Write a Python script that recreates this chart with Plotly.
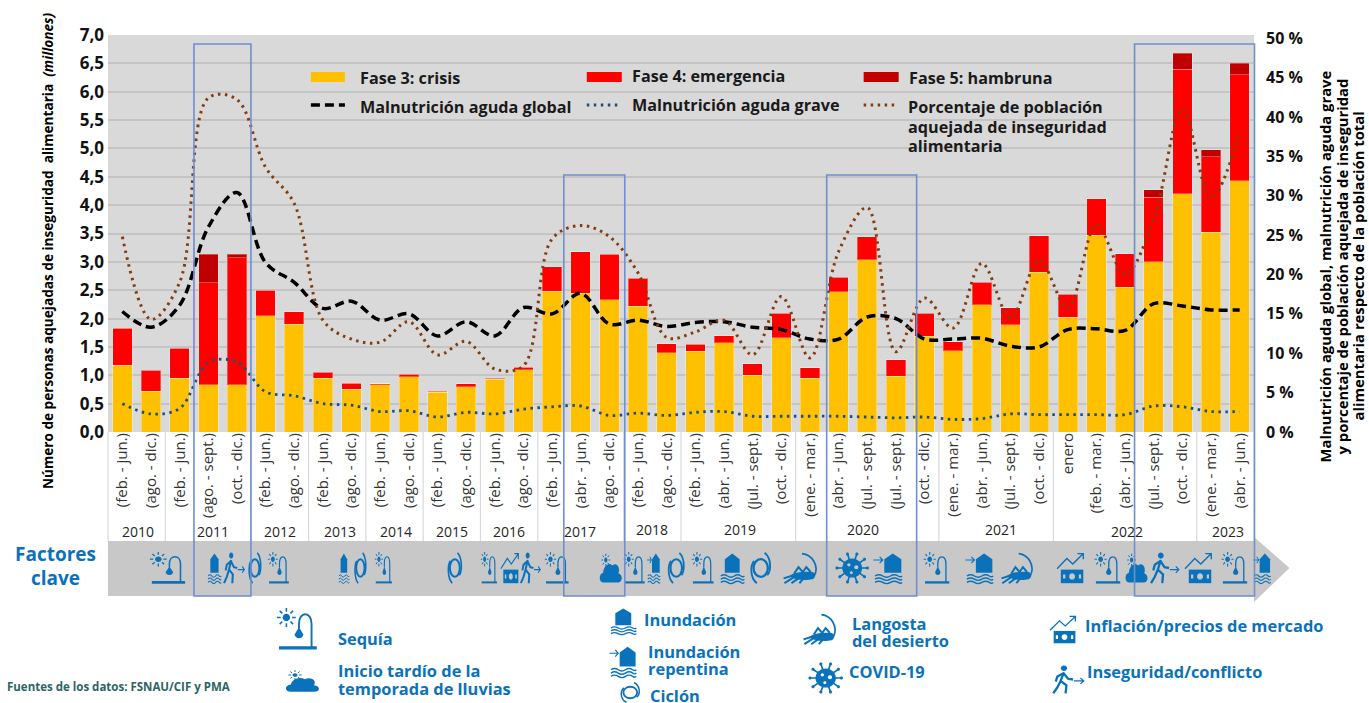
import math, re
import plotly.graph_objects as go

W, H = 1369, 703
L, R, T, B = 108, 1254.5, 35, 432

periods = ["(feb. - jun.)","(ago. - dic.)","(feb. - jun.)","(ago. - sept.)","(oct. - dic.)",
"(feb. - jun.)","(ago. - dic.)","(feb. - jun.)","(ago. - dic.)","(feb. - jun.)","(ago. - dic.)",
"(feb. - jun.)","(ago. - dic.)","(feb. - jun.)","(ago. - dic.)","(feb. - jun.)","(abr. - jun.)","(ago. - dic.)",
"(feb. - jun.)","(ago. - dic.)","(feb. - jun.)","(abr. - jun.)","(jul. - sept.)","(oct. - dic.)",
"(ene. - mar.)","(abr. - jun.)","(jul. - sept.)","(jul. - sept.)","(oct. - dic.)",
"(ene. - mar.)","(abr. - jun.)","(jul. - sept.)","(oct. - dic.)",
"enero","(feb. - mar.)","(abr. - jun.)","(jul. - sept.)","(oct. - dic.)","(ene. - mar.)","(abr. - jun.)"]

fase3 = [1.18,.72,.95,.83,.83,2.05,1.90,.95,.75,.83,.97,.70,.80,.93,1.10,2.48,2.45,2.33,2.22,1.40,
         1.42,1.57,1.00,1.66,.95,2.47,3.04,.98,1.69,1.43,2.24,1.89,2.82,2.02,3.47,2.55,3.00,4.20,3.52,4.43]
fase4 = [.65,.37,.53,1.80,2.24,.45,.22,.10,.11,.02,.05,.02,.05,.02,.04,.43,.73,.80,.49,.16,
         .13,.13,.20,.43,.18,.26,.40,.29,.40,.16,.40,.30,.64,.41,.64,.59,1.14,2.20,1.33,1.87]
fase5 = [0,0,0,.50,.06,0,0,0,0,0,0,0,0,0,0,0,0,0,0,0,
         0,0,0,0,0,0,0,0,0,0,0,0,0,0,0,0,.13,.28,.13,.20]

gam = [15.3,13.3,16.1,26.0,30.4,21.5,19.0,15.7,16.6,14.2,15.0,12.2,14.0,12.2,15.8,15.0,17.6,13.7,14.2,13.4,
       13.9,14.0,13.3,13.0,11.8,11.8,14.6,14.4,11.8,11.8,11.9,10.9,10.8,13.0,13.1,12.9,16.3,16.0,15.5,15.5]
mag = [3.6,2.3,3.0,8.8,8.9,5.1,4.6,3.6,3.4,2.6,2.7,1.9,2.5,2.3,2.9,3.2,3.3,2.1,2.4,2.1,
       2.5,2.6,2.0,2.0,2.0,2.0,1.9,1.8,1.9,1.6,1.7,2.3,2.2,2.2,2.2,2.2,3.3,3.2,2.6,2.6]
pct = [24.8,14.3,19.0,42.4,42.2,33.6,29.0,14.2,11.8,11.4,14.0,9.8,11.5,8.0,8.4,24.5,26.2,24.8,20.2,12.0,
       12.7,14.2,9.8,17.2,9.4,22.9,28.5,10.2,17.0,13.2,21.4,14.5,21.8,15.7,26.3,20.0,27.0,41.0,29.7,38.0]

years = ["2010","2011","2012","2013","2014","2015","2016","2017","2018","2019","2020","2021","2022","2023"]
year_px = [138,213,280,340,396,452,509,580,652,740,863,1001,1127,1228]
year_sep = [2,5,7,9,11,13,15,18,20,24,29,33,38]
pct_ticks = list(range(0, 51, 5))
pct_labels = [f"{v} %" for v in pct_ticks]

BLUE = "#0a72ba"
FONT = "Open Sans"
x = list(range(len(periods)))

fig = go.Figure()
for name, vals, col in [("Fase 3: crisis", fase3, "#FFC000"), ("Fase 4: emergencia", fase4, "#FF0000"),
                        ("Fase 5: hambruna", fase5, "#C00000")]:
    fig.add_bar(x=x, y=vals, name=name, marker=dict(color=col, line=dict(color="rgba(255,255,255,0.3)", width=1)),
                width=0.68, yaxis="y")
for name, vals, col, dash, w in [("Malnutrición aguda global", gam, "#000000", "9px,5px", 3.5),
                                 ("Malnutrición aguda grave", mag, "#1f4e79", "2.5px,4.5px", 2.8),
                                 ("Porcentaje de población aquejada de inseguridad alimentaria", pct, "#843C0C", "2.5px,4.5px", 3)]:
    fig.add_scatter(x=x, y=vals, name=name, mode="lines", yaxis="y2",
                    line=dict(color=col, dash=dash, width=w, shape="spline", smoothing=1))

px = lambda v: (v - L) / (R - L)
py = lambda v: (B - v) / (B - T)
shapes, ann = [], []

def rect(x0, y0, x1, y1, fill=None, line=None, lw=1, layer="above"):
    shapes.append(dict(type="rect", xref="paper", yref="paper", x0=px(x0), x1=px(x1), y0=py(y1), y1=py(y0),
                       fillcolor=fill or "rgba(0,0,0,0)", line=dict(color=line or "rgba(0,0,0,0)", width=lw if line else 0),
                       layer=layer))

def seg(x0, y0, x1, y1, col, lw, dash="solid", layer="above"):
    shapes.append(dict(type="line", xref="paper", yref="paper", x0=px(x0), x1=px(x1), y0=py(y0), y1=py(y1),
                       line=dict(color=col, width=lw, dash=dash), layer=layer))

def text(s, x0, y0, size=15, col="#1a1a1a", xa="left", ang=0, ya="middle", align="left"):
    if xa == "left":
        x0 -= 2
    ann.append(dict(text=s, xref="paper", yref="paper", x=px(x0), y=py(y0), xanchor=xa, yanchor=ya, showarrow=False,
                    textangle=ang, align=align, font=dict(family=FONT, size=size, color=col)))

# ---- icons --------------------------------------------------------------
def circ(cx, cy, r):
    k = r * 0.5523
    return (f"M {cx-r} {cy} C {cx-r} {cy-k} {cx-k} {cy-r} {cx} {cy-r} C {cx+k} {cy-r} {cx+r} {cy-k} {cx+r} {cy} "
            f"C {cx+r} {cy+k} {cx+k} {cy+r} {cx} {cy+r} C {cx-k} {cy+r} {cx-r} {cy+k} {cx-r} {cy} Z")

def rays(cx, cy, r0, r1, n=8):
    out = ""
    for i in range(n):
        a = 2 * math.pi * i / n
        out += f"M {cx+r0*math.cos(a):.2f} {cy+r0*math.sin(a):.2f} L {cx+r1*math.cos(a):.2f} {cy+r1*math.sin(a):.2f} "
    return out

def wave(y):
    return f"M 3 {y} Q 8 {y-3} 13 {y} Q 18 {y+3} 23 {y} Q 28 {y-3} 33 {y} Q 36 {y+2} 38 {y} "

WAVES = wave(30) + wave(34) + wave(38)
ICONS = {
 "sequia": [("f", circ(9, 9, 3.5), 0), ("s", rays(9, 9, 5.5, 9), 1.5),
            ("s", "M 33 38 L 33 15 C 33 3 21 3 21 15 L 21 19", 1.8),
            ("f", "M 21 18 L 25 25 C 25 30 17 30 17 25 Z", 0), ("s", "M 2 38 L 38 38", 3.2)],
 "lluvia": [("f", circ(11, 10, 3), 0), ("s", rays(11, 10, 5, 8), 1.4),
            ("f", "M 6 38 C -2 38 -2 27 6 26 C 7 17 17 12 23 17 C 30 12 38 19 34 27 C 42 28 42 38 34 38 Z", 0)],
 "inund": [("f", "M 20 2 L 31 9 L 31 26 L 9 26 L 9 9 Z", 0), ("s", WAVES, 1.8)],
 "repent": [("f", "M 26 2 L 37 9 L 37 26 L 15 26 L 15 9 Z", 0), ("s", WAVES, 1.8),
            ("s", "M 1 10 L 13 10 M 9 6 L 13 10 L 9 14", 1.5)],
 "ciclon": [("s", circ(20, 20, 11), 3.2), ("s", "M 26 1 C 37 8 36 24 30 29", 2.6),
            ("s", "M 14 39 C 3 32 4 16 10 11", 2.6)],
 "langosta": [("f", "M 8 30 C 12 25 26 24 34 25 C 38 26 38 33 34 34 C 26 36 12 35 8 30 Z", 0),
              ("s", "M 22 2 C 34 3 42 18 36 30", 2),
              ("s", "M 12 32 L 2 39 M 18 33 L 10 39 M 24 33 L 19 39 M 10 30 L 1 33 M 13 27 L 18 19 L 23 25 M 23 25 L 27 19 L 32 25", 2.4)],
 "covid": [("f", circ(20, 20, 12), 0), ("s", rays(20, 20, 11, 18, 10), 2),
           ("f", " ".join(circ(20 + 18.5*math.cos(2*math.pi*i/10), 20 + 18.5*math.sin(2*math.pi*i/10), 1.9) for i in range(10)), 0),
           ("w", circ(16, 16, 2) + " " + circ(25, 19, 2.5) + " " + circ(19, 26, 1.8), 0)],
 "inflacion": [("f", "M 7 22 L 37 22 L 37 39 L 7 39 Z", 0), ("w", circ(22, 30.5, 4) + " M 10 28 L 13 28 L 13 33 L 10 33 Z M 31 28 L 34 28 L 34 33 L 31 33 Z", 0),
               ("s", "M 2 21 L 15 8 L 23 15 L 37 2 M 29 2 L 37 2 L 37 9", 1.8)],
 "conflicto": [("f", circ(15, 4.5, 3.8), 0),
               ("s", "M 15 10 L 11 22 L 18 28 L 17 39 M 11 22 L 7 31 L 2 39 M 15 11 L 7 16 L 5 23 M 15 12 L 20 19 L 26 20", 3),
               ("s", "M 27 22 L 39 22 M 35 18 L 39 22 L 35 26", 1.6)],
}

def tf(path, x0, y0, x1, y1):
    toks = re.findall(r"[MLQCZ]|-?\d+\.?\d*", path)
    out, isx = [], True
    for t in toks:
        if t in "MLQCZ":
            out.append(t)
            isx = True
        else:
            v = float(t)
            if isx:
                out.append(f"{px(x0 + v/40*(x1-x0)):.5f}")
            else:
                out.append(f"{py(y0 + v/40*(y1-y0)):.5f}")
            isx = not isx
    s = ""
    for t in out:
        s += t + ("" if t == "Z" else " ")
    return s.strip()

def icon(kind, x0, x1, y0, y1, bg="#c8c8c8"):
    sc = ((x1-x0) + (y1-y0)) / 80
    for mode, p, lw in ICONS[kind]:
        path = tf(p, x0, y0, x1, y1)
        if mode == "s":
            shapes.append(dict(type="path", xref="paper", yref="paper", path=path, layer="above",
                               fillcolor="rgba(0,0,0,0)", line=dict(color=BLUE, width=max(lw*sc, 1))))
        else:
            shapes.append(dict(type="path", xref="paper", yref="paper", path=path, layer="above",
                               fillcolor=BLUE if mode == "f" else bg, line=dict(width=0)))

# ---- x label area and band ---------------------------------------------
for k in year_sep:
    xp = L + (R - L) * k / 40
    seg(xp, 432, xp, 541, "#d9d9d9", 1.2, layer="below")
seg(L, 432, L, 541, "#d9d9d9", 1.2, layer="below")
seg(R, 432, R, 541, "#d9d9d9", 1.2, layer="below")
for y_, xp in zip(years, year_px):
    yy = 531 if y_ in ("2010","2011","2012","2013","2014","2015","2016","2017","2022","2023") else 529
    text(y_, xp, yy, size=14, col="#262626", xa="center")

rect(L, 541, R, 596, fill="#c8c8c8", layer="below")
shapes.append(dict(type="path", xref="paper", yref="paper", layer="below", fillcolor="#c8c8c8", line=dict(width=0),
                   path=f"M {px(R):.5f} {py(537):.5f} L {px(1290):.5f} {py(568):.5f} L {px(R):.5f} {py(602):.5f} Z"))

band_icons = [("sequia",150,187),("inund",207,222),("conflicto",223,245),("ciclon",247,263),("sequia",268,290),
 ("inund",338,350),("ciclon",353,368),("sequia",375,393),("ciclon",446,464),("sequia",481,498),("inflacion",500,520),
 ("conflicto",520,541),("sequia",545,570),("lluvia",600,622),("sequia",624,646),("repent",647,661),("ciclon",666,687),
 ("sequia",692,715),("inund",719,746),("ciclon",748,774),("langosta",783,818),("covid",836,869),("repent",873,904),
 ("sequia",924,951),("repent",965,995),("langosta",1001,1034),("inflacion",1056,1086),("sequia",1095,1122),
 ("lluvia",1126,1148),("conflicto",1150,1180),("inflacion",1184,1214),("sequia",1222,1249),("repent",1253,1272)]
for k, a, b in band_icons:
    icon(k, a, b, 552, 584)

legend_icons = [("sequia",277,319,608,650),("lluvia",286,319,669,693),("inund",609,638,607,635),("repent",609,638,645,678),
 ("ciclon",618,643,682,703),("langosta",803,837,613,645),("covid",809,843,662,694),("inflacion",1049,1078,615,644),
 ("conflicto",1052,1085,665,694)]
for k, a, b, c, d in legend_icons:
    icon(k, a, b, c, d, bg="#ffffff")

def bl(s): return f"<b>{s}</b>"
BS = 16.4
text(bl("Factores"), 55, 554, size=19, col=BLUE, xa="center")
text(bl("clave"), 55, 578, size=19, col=BLUE, xa="center")
for s, a, b in [("Sequía",338,638),("Inundación",644,619),("Ciclón",650,695),("COVID-19",849,671),
                ("Inflación/precios de mercado",1085,625),("Inseguridad/conflicto",1087,671),
                ("Inicio tardío de la",338,670),("temporada de lluvias",338,688),
                ("Inundación",648,651),("repentina",648,668),("Langosta",852,623),("del desierto",852,640)]:
    text(bl(s), a, b, size=BS, col=BLUE)
text(bl("Fuentes de los datos: FSNAU/CIF y PMA"), 7, 686, size=11.5, col="#2b6565")

# ---- chart legend -------------------------------------------------------
LS = 16.2
for a, b, col, s, tx, t_y in [(311,345,"#FFC000","Fase 3: crisis",360,78),(587,622,"#FF0000","Fase 4: emergencia",632,76),
                              (864,899,"#C00000","Fase 5: hambruna",909,78)]:
    rect(a, 72, b, 82, fill=col)
    text(bl(s), tx, t_y, size=LS)
seg(311, 105, 345, 105, "#000000", 3.5, "9px,5px")
text(bl("Malnutrición aguda global"), 360, 107, size=LS)
seg(587, 105, 622, 105, "#1f4e79", 2.8, "2.5px,4.5px")
text(bl("Malnutrición aguda grave"), 632, 105, size=LS)
seg(864, 105, 899, 105, "#843C0C", 3, "2.5px,4.5px")
for s, yy in [("Porcentaje de población",107),("aquejada de inseguridad",127),("alimentaria",146)]:
    text(bl(s), 908, yy, size=LS)

# ---- axis titles --------------------------------------------------------
text(bl("Número de personas aquejadas de inseguridad  alimentaria  <i>(millones)</i>"), 48, 251, size=13.6, col="#000", xa="center", ang=-90, align="center")
for s, xp in [("Malnutrición aguda global, malnutrición aguda grave",1326),
              ("y porcentaje de población aquejada de inseguridad",1343),
              ("alimentaria respecto de la población total",1359)]:
    text(bl(s), xp, 266, size=14.8, col="#000", xa="center", ang=-90, align="center")

# ---- highlight boxes ----------------------------------------------------
for a, b, c in [(194,251,44),(564,625,175),(827,917,175),(1135,1255,44)]:
    rect(a, c, b, 596, line="#6f8fd0", lw=1.6)

fig.update_layout(
    width=W, height=H, barmode="stack", showlegend=False, bargap=0.32,
    margin=dict(l=L, r=W-R, t=T, b=H-B, autoexpand=False),
    plot_bgcolor="#d9d9d9", paper_bgcolor="#ffffff", separators=", ",
    font=dict(family=FONT),
    xaxis=dict(range=[-0.5, 39.5], tickmode="array", tickvals=x, ticktext=periods, tickangle=-90, ticks="", showgrid=False,
               zeroline=False, tickfont=dict(size=15, color="#333333"), automargin=False, ticklabelstandoff=-3),
    yaxis=dict(range=[0, 7], dtick=0.5, tickformat=".1f", gridcolor="#c4c4c4", gridwidth=1.5, zeroline=False, ticks="",
               tickfont=dict(size=17, color="#111111", family=FONT, weight="bold"), automargin=False, ticklabelstandoff=3),
    yaxis2=dict(range=[0, 50.4], overlaying="y", side="right", tickmode="array", tickvals=pct_ticks, ticktext=pct_labels, showgrid=False,
                zeroline=False, ticks="", tickfont=dict(size=16, color="#111111", family=FONT, weight="bold"), automargin=False,
                ticklabelstandoff=11),
    shapes=shapes, annotations=ann,
)
fig.write_html("out.html", config=dict(displayModeBar=False),
               post_script="document.body.style.margin='0';document.body.style.overflow='hidden';")
